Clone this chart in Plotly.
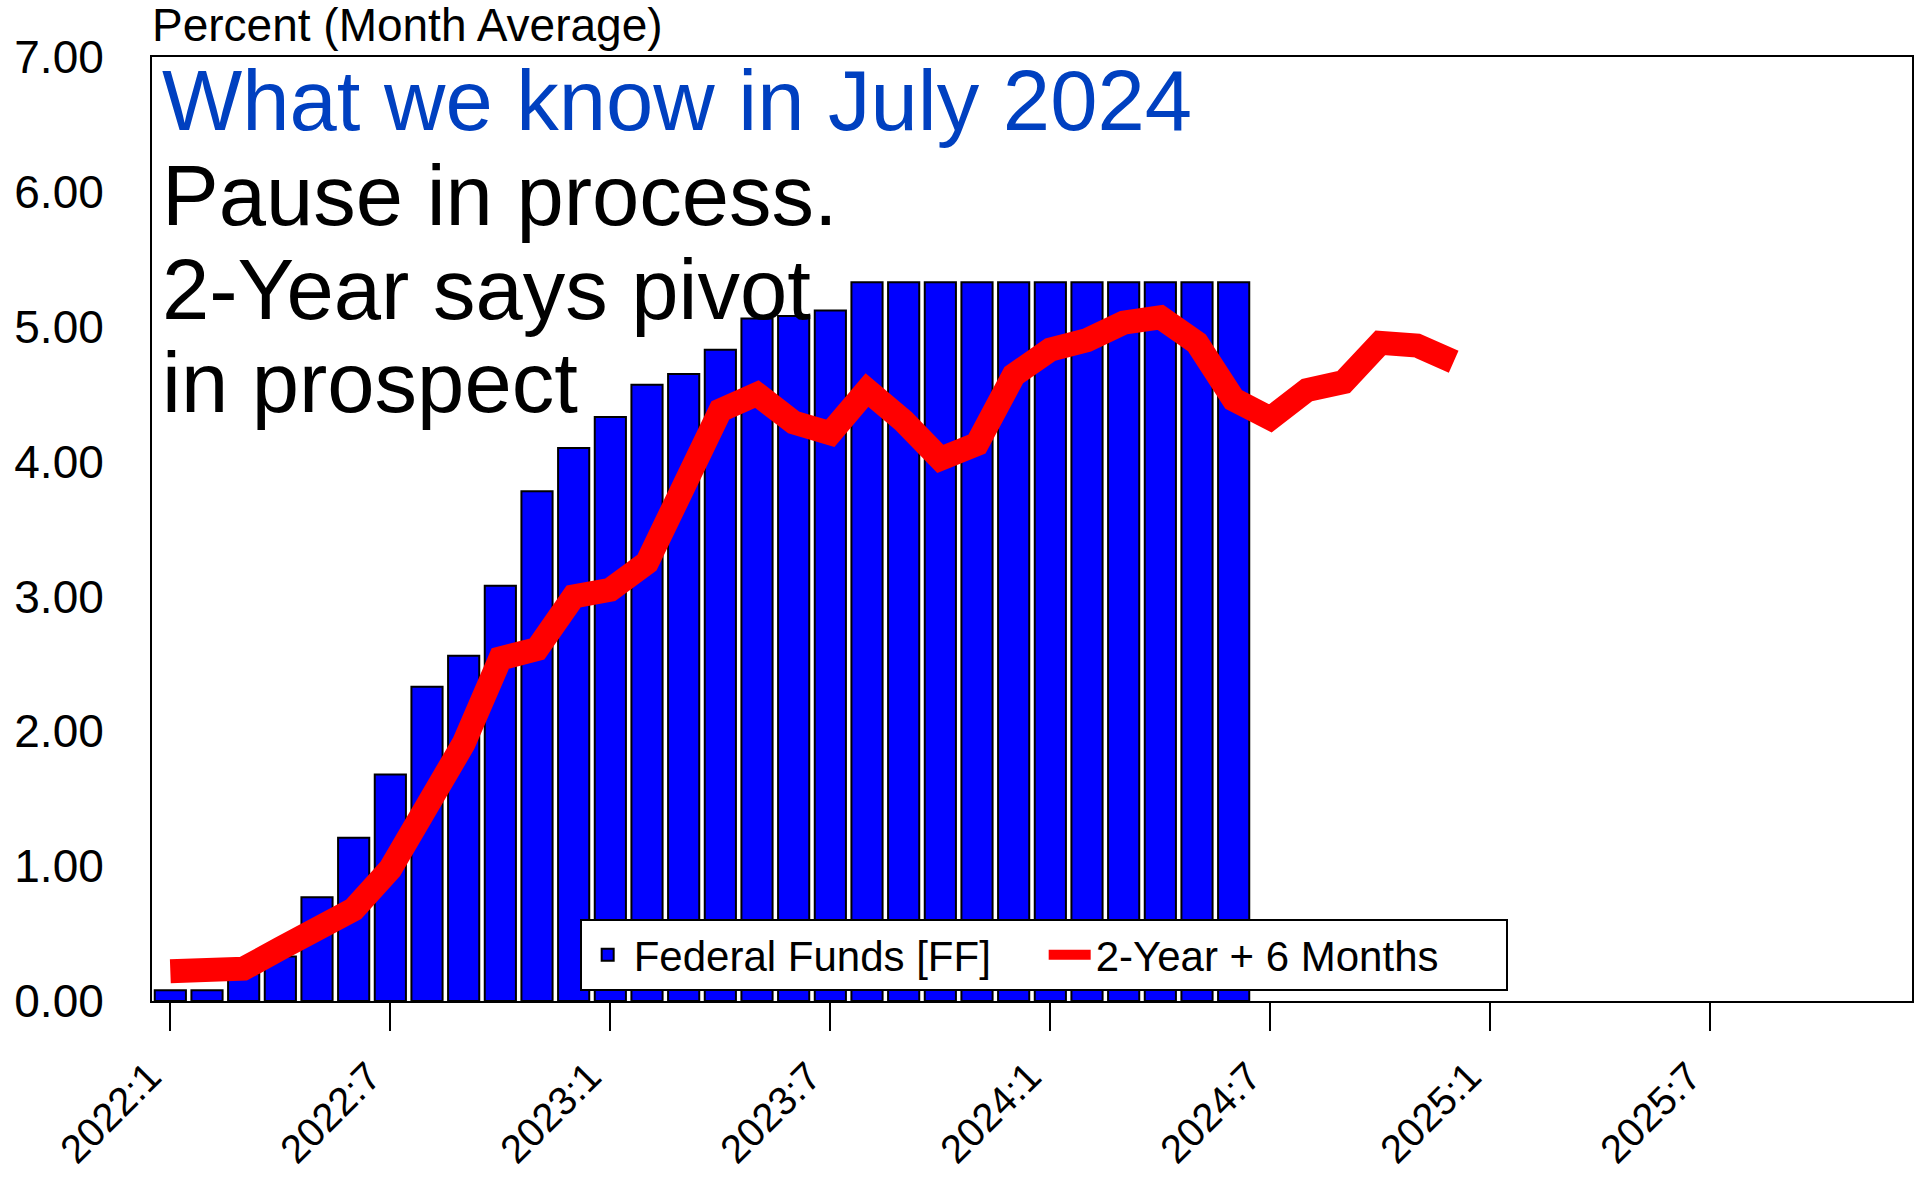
import plotly.graph_objects as go

# ---- data ----
years = [2022, 2023, 2024, 2025]
month_labels = [f"{y}:{m}" for y in years for m in range(1, 13)]

ff_months = month_labels[:30]  # 2022:1 .. 2024:6
ff_values = [0.08, 0.08, 0.20, 0.33, 0.77, 1.21, 1.68, 2.33, 2.56, 3.08, 3.78, 4.10,
             4.33, 4.57, 4.65, 4.83, 5.06, 5.08, 5.12, 5.33, 5.33, 5.33, 5.33, 5.33,
             5.33, 5.33, 5.33, 5.33, 5.33, 5.33]

two_year_months = month_labels[:36]  # 2022:1 .. 2024:12
two_year_values = [0.22, 0.22, 0.24, 0.39, 0.52, 0.68, 0.98, 1.44, 1.91, 2.54, 2.61, 3.00,
                   3.05, 3.25, 3.86, 4.38, 4.50, 4.29, 4.21, 4.53, 4.30, 4.02, 4.13, 4.64,
                   4.83, 4.90, 5.03, 5.07, 4.88, 4.46, 4.32, 4.53, 4.59, 4.88, 4.86, 4.74]

tick_labels = month_labels[::6]
y_ticks = [0, 1, 2, 3, 4, 5, 6, 7]

FONT = "Liberation Sans, Arial, sans-serif"

fig = go.Figure()
fig.add_trace(go.Bar(
    x=ff_months, y=ff_values, name="Federal Funds [FF]",
    marker=dict(color="#0000FF", line=dict(color="black", width=2)),
))
fig.add_trace(go.Scatter(
    x=two_year_months, y=two_year_values, name="2-Year + 6 Months",
    mode="lines", line=dict(color="#FF0000", width=24),
))

fig.update_layout(
    width=1917, height=1178, autosize=False,
    margin=dict(l=152, r=5, t=57, b=177, pad=0),
    paper_bgcolor="white", plot_bgcolor="white",
    font=dict(family=FONT, size=44, color="black"),
    bargap=0.15,
    showlegend=True,
    legend=dict(
        orientation="h", x=0.243, y=0.0869, xanchor="left", yanchor="top",
        bgcolor="white", bordercolor="black", borderwidth=2,
        font=dict(family=FONT, size=42, color="black"),
        itemwidth=42, entrywidth=405, traceorder="normal",
    ),
    xaxis=dict(
        type="category", categoryorder="array", categoryarray=month_labels,
        range=[-0.5, 47.5], automargin=False,
        tickmode="array", tickvals=tick_labels, ticktext=tick_labels,
        tickangle=-45, ticks="outside", ticklen=28, tickwidth=2, tickcolor="black",
        ticklabelstandoff=6, ticklabelshift=-21,
        showline=True, linecolor="black", linewidth=2, mirror=True,
        showgrid=False, zeroline=False,
        tickfont=dict(family=FONT, size=40, color="black"),
    ),
    yaxis=dict(
        range=[0, 7], automargin=False,
        tickmode="array", tickvals=y_ticks, tickformat=".2f",
        ticks="", ticklabelstandoff=37,
        showline=True, linecolor="black", linewidth=2, mirror=True,
        showgrid=False, zeroline=False,
        tickfont=dict(family=FONT, size=46, color="black"),
    ),
)

def add_text(text, y_center_px, size, color, xshift):
    fig.add_annotation(
        text=text, xref="paper", yref="paper", x=0, y=(1001 - y_center_px) / 944,
        xanchor="left", yanchor="middle", showarrow=False, xshift=xshift,
        font=dict(family=FONT, size=size, color=color),
    )

add_text("Percent (Month Average)", 25, 46, "black", -2)
add_text("What we know in July 2024", 101, 85, "#0040C0", 8)
add_text("Pause in process.", 195, 85, "black", 8)
add_text("2-Year says pivot", 290, 85, "black", 8)
add_text("in prospect", 383, 85, "black", 8)

fig.write_html("out.html", config={"displayModeBar": False},
               post_script="document.body.style.margin='0';")
